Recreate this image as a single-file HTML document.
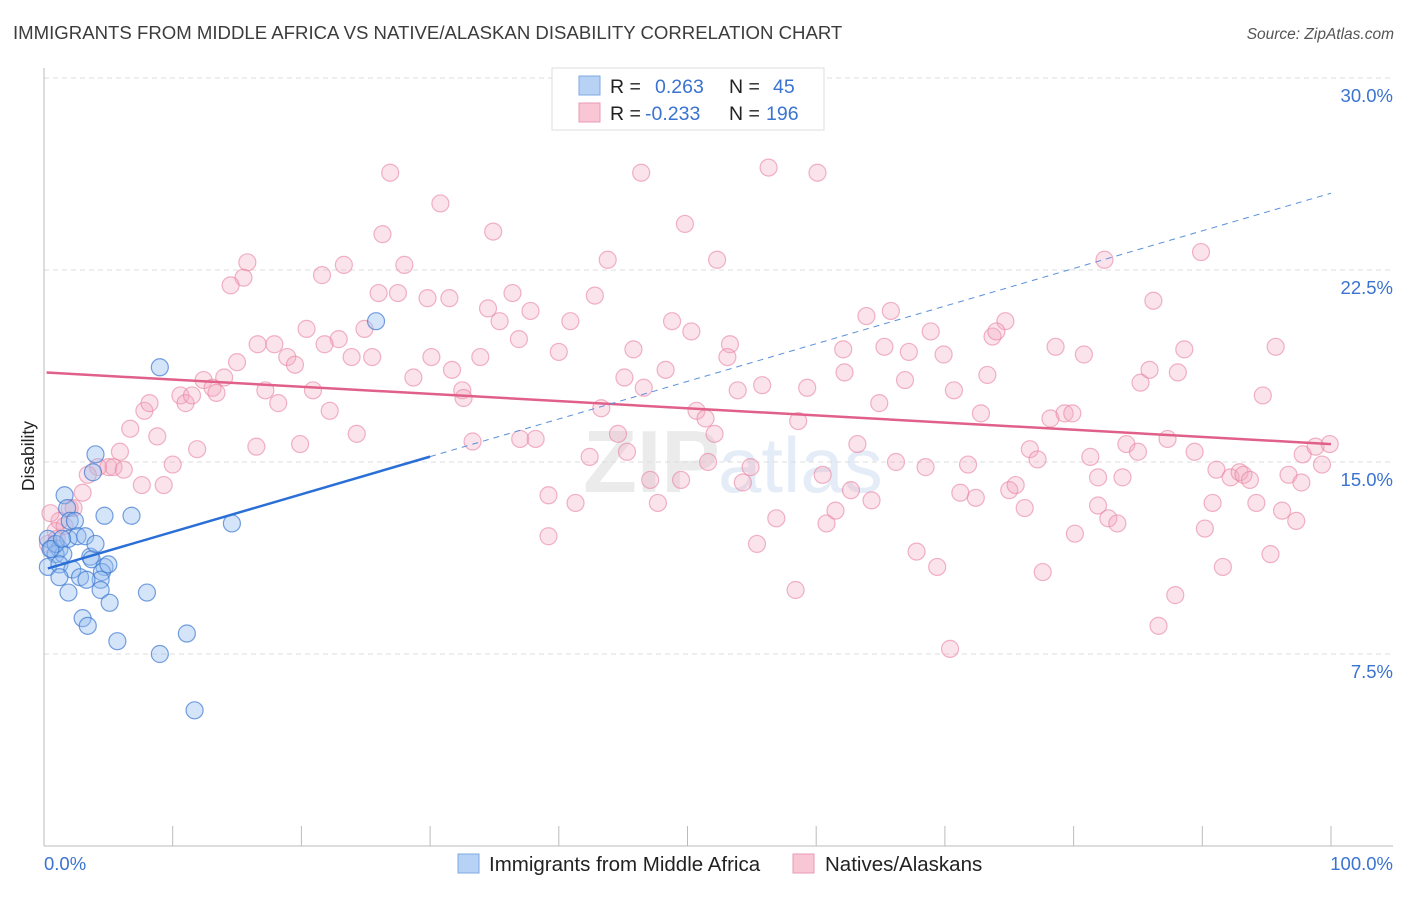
<!DOCTYPE html>
<html><head><meta charset="utf-8"><style>
body{margin:0;background:#fff;font-family:"Liberation Sans",sans-serif}
svg text{font-family:"Liberation Sans",sans-serif}
</style></head><body>
<svg id="chart" width="1406" height="892" xmlns="http://www.w3.org/2000/svg">
<text x="13" y="39" font-size="18.6" fill="#3c3c3c">IMMIGRANTS FROM MIDDLE AFRICA VS NATIVE/ALASKAN DISABILITY CORRELATION CHART</text>
<text x="1394" y="39" font-size="15.5" fill="#555" font-style="italic" text-anchor="end">Source: ZipAtlas.com</text>
<text x="0" y="0" transform="translate(34,456) rotate(-90)" font-size="17.5" fill="#222" text-anchor="middle">Disability</text>
<text x="720" y="492" font-size="88" font-weight="bold" fill="#ebebeb" text-anchor="end">ZIP</text>
<text x="718" y="492" font-size="78" fill="#e3ecf7">atlas</text>
<g id="grid"></g><g id="axes"></g><g id="pts"></g><g id="lines"></g>
<g>
<rect x="552" y="68" width="272" height="62" fill="#fff" stroke="#ddd"/>
<rect x="579" y="76" width="21" height="19" fill="#b7d2f4" stroke="#7ea8e3"/>
<rect x="579" y="103" width="21" height="19" fill="#f9c6d5" stroke="#eb9ab3"/>
<text x="610" y="93" font-size="19.5" fill="#222">R =</text><text x="655" y="93" font-size="19.5" fill="#3a73d0">0.263</text>
<text x="729" y="93" font-size="19.5" fill="#222">N =</text><text x="773" y="93" font-size="19.5" fill="#3a73d0">45</text>
<text x="610" y="120" font-size="19.5" fill="#222">R =</text><text x="645" y="120" font-size="19.5" fill="#3a73d0">-0.233</text>
<text x="729" y="120" font-size="19.5" fill="#222">N =</text><text x="766" y="120" font-size="19.5" fill="#3a73d0">196</text>
</g>
<g>
<rect x="458" y="854" width="21" height="19" fill="#b7d2f4" stroke="#7ea8e3"/>
<text x="489" y="871" font-size="20.5" fill="#222">Immigrants from Middle Africa</text>
<rect x="793" y="854" width="21" height="19" fill="#f9c6d5" stroke="#eb9ab3"/>
<text x="825" y="871" font-size="20.5" fill="#222">Natives/Alaskans</text>
</g>
</svg>
<script>
const yTicks=[7.5,15,22.5,30];
const yTickLabels=["7.5%","15.0%","22.5%","30.0%"];
const xTickVals=[0,10,20,30,40,50,60,70,80,90,100];
const blueX=[1.6,4.0,3.8,4.7,6.8,9.0,14.6,25.8,1.8,2.0,2.4,0.3,0.6,1.2,0.9,1.5,1.9,2.6,3.2,3.6,0.3,1.2,2.2,2.8,3.7,4.7,4.5,4.4,3.3,1.9,4.4,5.1,3.0,3.4,5.7,8.0,9.0,11.1,11.7,1.2,0.9,0.5,1.4,5.0,4.0];
const blueY=[13.7,15.3,14.6,12.9,12.9,18.7,12.6,20.5,13.2,12.7,12.7,12.0,11.6,11.6,11.4,11.4,12.0,12.1,12.1,11.3,10.9,11.0,10.8,10.5,11.2,10.9,10.7,10.4,10.4,9.9,10.0,9.5,8.9,8.6,8.0,9.9,7.5,8.3,5.3,10.5,11.8,11.6,12.0,11.0,11.8];
const pinkX=[26.9,56.3,60.1,46.4,30.8,34.9,26.3,49.8,15.8,15.5,14.5,21.6,23.3,28.0,43.8,52.3,82.4,89.9,26.0,27.5,29.8,31.5,36.4,34.5,35.4,37.8,40.9,42.8,48.8,50.3,20.4,22.9,16.6,17.9,21.8,24.9,23.9,25.5,18.9,19.5,15.0,36.9,40.0,45.8,53.3,53.1,63.9,65.8,65.3,67.2,68.9,69.9,73.7,74.7,74.0,78.6,80.8,86.2,88.6,95.7,62.1,30.1,33.9,28.7,31.7,32.5,32.6,48.3,45.1,46.6,53.9,55.8,59.3,62.2,66.9,70.7,73.3,85.2,85.9,88.1,94.7,12.4,13.1,13.4,14.0,17.2,18.2,20.9,10.6,11.0,11.5,7.8,8.2,22.2,24.3,43.3,50.7,51.4,58.6,64.9,72.8,78.2,79.3,79.9,87.3,6.7,8.8,11.9,16.5,19.9,33.3,37.0,38.2,44.6,45.3,52.1,63.2,76.6,84.1,85.0,89.4,97.8,98.8,99.9,5.9,5.0,5.4,4.2,6.2,10.0,3.4,3.0,7.6,9.3,42.4,47.1,49.5,51.6,54.9,60.5,66.2,68.5,71.8,77.2,81.3,91.1,92.2,92.9,93.2,93.7,96.7,99.3,97.7,39.2,41.3,47.7,54.3,62.7,64.3,71.2,72.4,75.0,75.5,81.9,83.8,90.8,94.2,96.2,97.3,76.2,81.9,82.7,83.4,56.9,60.8,61.5,80.1,90.2,39.2,55.4,67.8,69.4,77.6,91.6,95.3,87.9,58.4,86.6,70.4,2.0,2.3,1.2,0.9,0.5,0.3,1.0,1.6];
const pinkY=[26.3,26.5,26.3,26.3,25.1,24.0,23.9,24.3,22.8,22.2,21.9,22.3,22.7,22.7,22.9,22.9,22.9,23.2,21.6,21.6,21.4,21.4,21.6,21.0,20.5,20.9,20.5,21.5,20.5,20.1,20.2,19.8,19.6,19.6,19.6,20.2,19.1,19.1,19.1,18.8,18.9,19.8,19.3,19.4,19.6,19.1,20.7,20.9,19.5,19.3,20.1,19.2,19.9,20.5,20.1,19.5,19.2,21.3,19.4,19.5,19.4,19.1,19.1,18.3,18.6,17.8,17.5,18.6,18.3,17.9,17.8,18.0,17.9,18.5,18.2,17.8,18.4,18.1,18.6,18.5,17.6,18.2,17.9,17.7,18.3,17.8,17.3,17.8,17.6,17.3,17.6,17.0,17.3,17.0,16.1,17.1,17.0,16.7,16.6,17.3,16.9,16.7,16.9,16.9,15.9,16.3,16.0,15.5,15.6,15.7,15.8,15.9,15.9,16.1,15.4,16.1,15.7,15.5,15.7,15.4,15.4,15.3,15.6,15.7,15.4,14.8,14.8,14.8,14.7,14.9,14.5,13.8,14.1,14.1,15.2,14.3,14.3,15.0,14.8,14.5,15.0,14.8,14.9,15.1,15.2,14.7,14.4,14.6,14.5,14.3,14.5,14.9,14.2,13.7,13.4,13.4,14.2,13.9,13.5,13.8,13.6,13.9,14.1,14.4,14.4,13.4,13.4,13.1,12.7,13.2,13.3,12.8,12.6,12.8,12.6,13.1,12.2,12.4,12.1,11.8,11.5,10.9,10.7,10.9,11.4,9.8,10.0,8.6,7.7,13.2,13.2,12.7,12.3,13.0,11.8,12.0,12.5];
const blueTrend=[10.8,25.5];
const pinkTrend=[18.5,15.7];
const NS="http://www.w3.org/2000/svg";
const X0=44,X1=1331,YB=846,PXPER=192/7.5;
function sx(v){return X0+(X1-X0)*v/100;}
function sy(v){return YB-v*PXPER;}
function mk(tag,attrs,parent){const e=document.createElementNS(NS,tag);for(const k in attrs)e.setAttribute(k,attrs[k]);parent.appendChild(e);return e;}
const grid=document.getElementById('grid'),axes=document.getElementById('axes'),pts=document.getElementById('pts'),lines=document.getElementById('lines');
yTicks.forEach((t,i)=>{
 const l=mk('line',{x1:X0,x2:1393,y1:sy(t),y2:sy(t),stroke:'#dcdcdc','stroke-dasharray':'5,4'},grid);
 
 
 const tx=mk('text',{x:1393,y:sy(t)+24,'font-size':18.5,fill:'#3a73d0','text-anchor':'end'},axes);
 tx.textContent=yTickLabels[i];
 
 
});
const ya=mk('line',{x1:X0,x2:X0,y1:68,y2:YB,stroke:'#bbb'},axes);


const xa=mk('line',{x1:X0,x2:1393,y1:YB,y2:YB,stroke:'#bbb'},axes);


xTickVals.forEach(v=>{
 const t=mk('line',{x1:sx(v),x2:sx(v),y1:826,y2:846,stroke:'#bbb'},axes);
 
 
});
const xl0=mk('text',{x:44,y:870,'font-size':18.5,fill:'#3a73d0'},axes);xl0.textContent='0.0%';


const xl1=mk('text',{x:1393,y:870,'font-size':18.5,fill:'#3a73d0','text-anchor':'end'},axes);xl1.textContent='100.0%';


pinkX.forEach((x,i)=>{
 const c=mk('circle',{cx:sx(x),cy:sy(pinkY[i]),r:8.5,fill:'rgba(244,168,192,0.32)',stroke:'rgba(232,130,160,0.6)','stroke-width':1.2},pts);
 
 
});
blueX.forEach((x,i)=>{
 const c=mk('circle',{cx:sx(x),cy:sy(blueY[i]),r:8.5,fill:'rgba(150,190,240,0.4)',stroke:'rgba(60,120,210,0.7)','stroke-width':1.2},pts);
 
 
});
function ty(tr,x){return tr[0]+(tr[1]-tr[0])*x/100;}
const pl=mk('line',{x1:sx(0.2),y1:sy(ty(pinkTrend,0.2)),x2:sx(100),y2:sy(ty(pinkTrend,100)),stroke:'#e0608a','stroke-width':2.5},lines);


const bl=mk('line',{x1:sx(0.3),y1:sy(ty(blueTrend,0.3)),x2:sx(30),y2:sy(ty(blueTrend,30)),stroke:'#2a6fd6','stroke-width':2.5},lines);


const bd=mk('line',{x1:sx(30),y1:sy(ty(blueTrend,30)),x2:sx(100),y2:sy(ty(blueTrend,100)),stroke:'#5a8fdc','stroke-width':1,'stroke-dasharray':'6,5'},lines);


</script>
</body></html>
